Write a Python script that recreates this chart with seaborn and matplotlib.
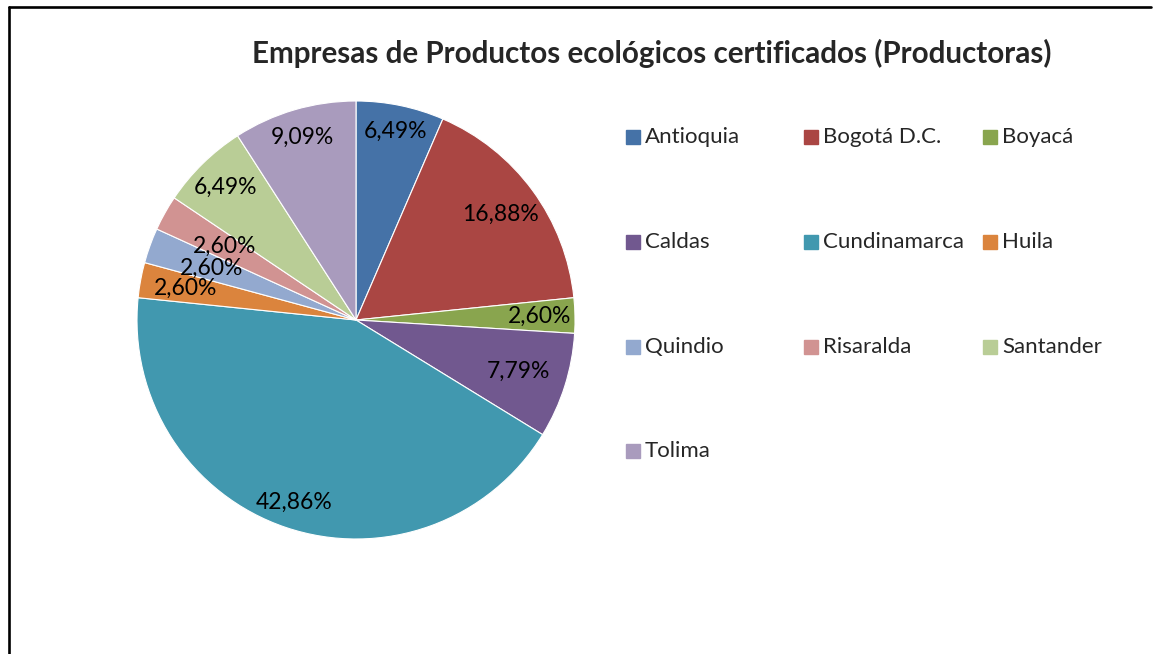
import numpy as np
import matplotlib.pyplot as plt
from matplotlib.patches import Rectangle
from matplotlib.lines import Line2D
import seaborn as sns

departamentos = ["Antioquia", "Bogotá D.C.", "Boyacá", "Caldas", "Cundinamarca",
                 "Huila", "Quindio", "Risaralda", "Santander", "Tolima"]
empresas = [5, 13, 2, 6, 33, 2, 2, 2, 5, 7]
titulo = "Empresas de Productos ecológicos certificados (Productoras)"

colores = sns.color_palette(["#4572A7", "#AA4643", "#89A54E", "#71588F", "#4198AF",
                             "#DB843D", "#93A9CF", "#D19392", "#B9CD96", "#A99BBD"])
# radial position of each % label (fraction of radius), as placed in the original
label_r = [0.88, 0.82, 0.84, 0.78, 0.88, 0.79, 0.70, 0.69, 0.85, 0.87]

sns.set_theme(style="white")
plt.rcParams['font.family'] = ['Lato', 'DejaVu Sans']

W, H = 1156, 654
fig = plt.figure(figsize=(W / 100, H / 100), dpi=100)

# pie: center (356, 320), radius 219 px
cx, cy, r = 356, 320, 219
ax = fig.add_axes([(cx - r) / W, (H - cy - r) / H, 2 * r / W, 2 * r / H])
wedges, _, autotexts = ax.pie(
    empresas, colors=colores, startangle=90, counterclock=False,
    autopct=lambda p: f"{p:.2f}%".replace(".", ","),
    wedgeprops=dict(edgecolor="white", linewidth=0.8),
    textprops=dict(fontsize=16.5, color="black"))
ax.set_xlim(-1, 1)
ax.set_ylim(-1, 1)
for w, t, d in zip(wedges, autotexts, label_r):
    ang = np.deg2rad((w.theta1 + w.theta2) / 2)
    t.set_position((d * np.cos(ang), d * np.sin(ang)))

# overlay in pixel coords for frame, title and legend
ov = fig.add_axes([0, 0, 1, 1], zorder=-1)
ov.set_xlim(0, W)
ov.set_ylim(H, 0)
ov.axis("off")
ov.add_line(Line2D([9, 9], [7, H + 5], color="black", lw=1.9))
ov.add_line(Line2D([9, 1151], [7, 7], color="black", lw=1.9))
ov.text(652, 53, titulo, ha="center", va="center", fontsize=21.3, fontweight="bold")

lax = fig.add_axes([0, 0, 1, 1])
lax.set_xlim(0, W)
lax.set_ylim(H, 0)
lax.axis("off")
col_x = [626, 804, 983]
row_y = [137, 242, 347, 451]
for i, (nombre, c) in enumerate(zip(departamentos, colores)):
    fila, col = divmod(i, 3)
    x, y = col_x[col], row_y[fila]
    lax.add_patch(Rectangle((x, y - 7), 14, 14, color=c))
    lax.text(x + 19, y, nombre, ha="left", va="center", fontsize=16)

fig.savefig("out.png", dpi=100, facecolor="white")
